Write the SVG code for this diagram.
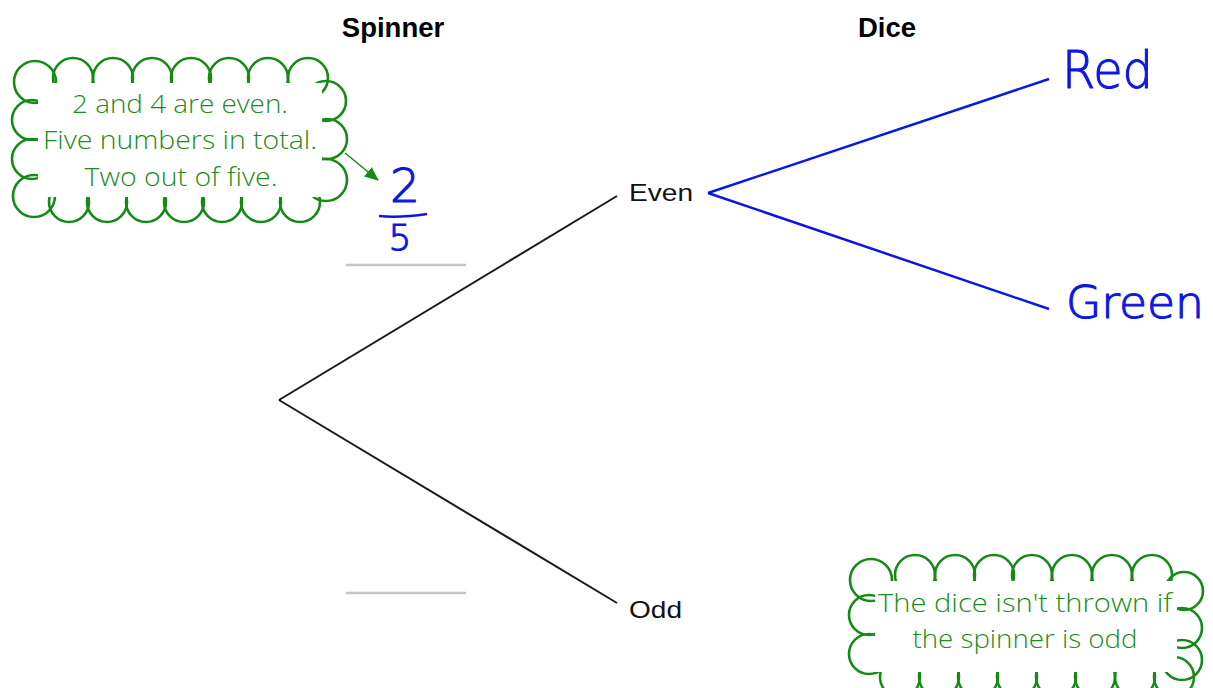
<svg xmlns="http://www.w3.org/2000/svg" width="1213" height="688" viewBox="0 0 1213 688">
<style>
.bg{fill:#ffffff}
.head{font-family:"Liberation Sans",Arial,sans-serif;font-weight:bold;font-size:27.5px;fill:#000;text-anchor:middle}
.lab{font-family:"Liberation Sans",Arial,sans-serif;font-size:24px;fill:#111}
.tree{stroke:#1a1a1a;stroke-width:2;fill:none}
.gap{stroke:#c4c4c4;stroke-width:2.5;fill:none}
.blue{stroke:#0c16e4;stroke-width:2.5;fill:none}
.hand{font-family:"DejaVu Sans",sans-serif;font-weight:200;fill:#0c16e4;stroke:#0c16e4;stroke-width:1.1}
.bump{fill:none;stroke:#168a16;stroke-width:2.6}
.cover{fill:#ffffff;stroke:none}
.note{font-family:"Open Sans","Noto Sans",sans-serif;font-weight:350;font-size:26px;fill:#1c8c1c;text-anchor:middle}
.arrow{stroke:#168a16;stroke-width:1.5;fill:none}
</style>
<defs>
<marker id="ah" markerWidth="14" markerHeight="12" refX="13" refY="6" orient="auto" markerUnits="userSpaceOnUse">
<path d="M0,0 L14,6 L0,12 Z" fill="#168a16"/>
</marker>
</defs>
<rect class="bg" x="0" y="0" width="1213" height="688"/>

<g id="headings">
<text class="head" x="393" y="37">Spinner</text>
<text class="head" x="887" y="37">Dice</text>
</g>

<g id="connectors">
<line class="tree" x1="279" y1="400" x2="617" y2="196"/>
<line class="tree" x1="279" y1="400" x2="617" y2="603"/>
<line class="gap" x1="346" y1="265" x2="466" y2="265"/>
<line class="gap" x1="346" y1="593" x2="466" y2="593"/>
<line class="blue" x1="708" y1="193" x2="1049" y2="79"/>
<line class="blue" x1="708" y1="193" x2="1049" y2="309"/>
<line class="arrow" x1="345" y1="153" x2="378" y2="180" marker-end="url(#ah)"/>
</g>

<g id="node-even"><text class="lab" x="629" y="201" textLength="64" lengthAdjust="spacingAndGlyphs">Even</text></g>
<g id="node-odd"><text class="lab" x="629" y="618" textLength="53" lengthAdjust="spacingAndGlyphs">Odd</text></g>

<g id="node-red"><text class="hand" x="1062" y="88" font-size="52" textLength="91" lengthAdjust="spacingAndGlyphs">Red</text></g>
<g id="node-green"><text class="hand" x="1066" y="318" font-size="44" textLength="138" lengthAdjust="spacingAndGlyphs">Green</text></g>

<g id="fraction">
<text class="hand" x="405" y="202" font-size="47" text-anchor="middle">2</text>
<path class="blue" d="M379,216 Q400,218 427,214" stroke-width="3"/>
<text class="hand" x="400" y="250" font-size="36" text-anchor="middle">5</text>
</g>

<g id="cloud-note1">
<circle class="bump" cx="35" cy="82" r="21"/>
<circle class="bump" cx="73" cy="78" r="20"/>
<circle class="bump" cx="113" cy="78" r="20"/>
<circle class="bump" cx="152" cy="78" r="20"/>
<circle class="bump" cx="191" cy="78" r="20"/>
<circle class="bump" cx="229" cy="78" r="20"/>
<circle class="bump" cx="268" cy="78" r="20"/>
<circle class="bump" cx="308" cy="78" r="20"/>
<circle class="bump" cx="326" cy="101" r="20"/>
<circle class="bump" cx="327" cy="139" r="20"/>
<circle class="bump" cx="326" cy="180" r="21"/>
<circle class="bump" cx="300" cy="202" r="20"/>
<circle class="bump" cx="261" cy="202" r="20"/>
<circle class="bump" cx="222" cy="202" r="20"/>
<circle class="bump" cx="184" cy="202" r="20"/>
<circle class="bump" cx="146" cy="202" r="20"/>
<circle class="bump" cx="107" cy="202" r="20"/>
<circle class="bump" cx="69" cy="202" r="20"/>
<circle class="bump" cx="34" cy="196" r="21"/>
<circle class="bump" cx="32" cy="159" r="20"/>
<circle class="bump" cx="32" cy="120" r="20"/>
<rect class="cover" x="38" y="83" width="284" height="114"/>
<text class="note" x="180" y="113" textLength="216" lengthAdjust="spacingAndGlyphs">2 and 4 are even.</text>
<text class="note" x="180" y="149" textLength="274" lengthAdjust="spacingAndGlyphs">Five numbers in total.</text>
<text class="note" x="181" y="186" textLength="193" lengthAdjust="spacingAndGlyphs">Two out of five.</text>
</g>

<g id="cloud-note2">
<circle class="bump" cx="871" cy="580" r="21"/>
<circle class="bump" cx="915" cy="575" r="20"/>
<circle class="bump" cx="955" cy="575" r="20"/>
<circle class="bump" cx="994" cy="575" r="20"/>
<circle class="bump" cx="1032" cy="575" r="20"/>
<circle class="bump" cx="1072" cy="575" r="20"/>
<circle class="bump" cx="1112" cy="575" r="20"/>
<circle class="bump" cx="1152" cy="575" r="20"/>
<circle class="bump" cx="1184" cy="591" r="19"/>
<circle class="bump" cx="1182" cy="628" r="20"/>
<circle class="bump" cx="1182" cy="660" r="20"/>
<circle class="bump" cx="1174" cy="677" r="20"/>
<circle class="bump" cx="1135" cy="677" r="20"/>
<circle class="bump" cx="1095" cy="677" r="20"/>
<circle class="bump" cx="1056" cy="677" r="20"/>
<circle class="bump" cx="1017" cy="677" r="20"/>
<circle class="bump" cx="978" cy="677" r="20"/>
<circle class="bump" cx="939" cy="677" r="20"/>
<circle class="bump" cx="900" cy="677" r="20"/>
<circle class="bump" cx="869" cy="654" r="20"/>
<circle class="bump" cx="869" cy="615" r="20"/>
<rect class="cover" x="875" y="581" width="302" height="91"/>
<text class="note" x="1025" y="612" textLength="294" lengthAdjust="spacingAndGlyphs">The dice isn't thrown if</text>
<text class="note" x="1025" y="648" textLength="225" lengthAdjust="spacingAndGlyphs">the spinner is odd</text>
</g>
</svg>
